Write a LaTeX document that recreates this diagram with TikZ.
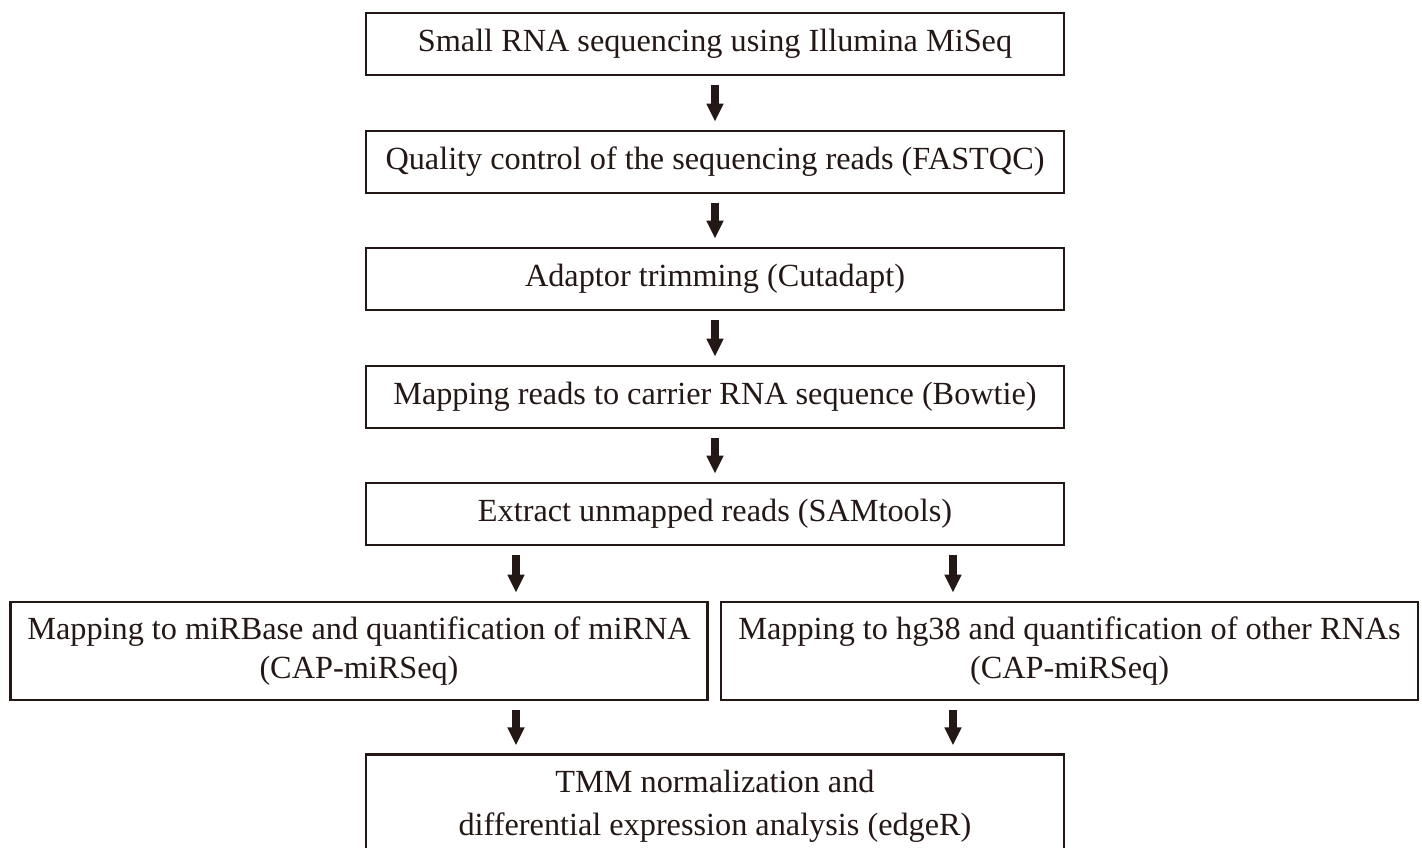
\documentclass[tikz,border=0pt]{standalone}
\usepackage{fontspec}
\setmainfont{Liberation Serif}
\usetikzlibrary{arrows.meta}
\definecolor{ink}{RGB}{35,24,21}
\begin{document}
\begin{tikzpicture}[x=0.75pt,y=-0.75pt,
  stepbox/.style={draw=ink, text=ink, line width=1.9pt, rectangle, inner sep=0pt,
    minimum width=523.5pt, minimum height=46.5pt, align=center,
    font=\fontsize{24.2}{29}\selectfont},
  halfbox/.style={stepbox, minimum width=523pt, minimum height=73.5pt},
  flow/.style={line width=6pt, draw=ink, fill=ink,
    -{Triangle[width=12pt,length=13.5pt]}, shorten <=6.75pt, shorten >=6pt}]
\useasboundingbox (0,0) rectangle (1422,848);
\clip (0,0) rectangle (1422,848);
\fill[white] (0,0) rectangle (1422,848);

% main pipeline
\node[stepbox] (seq) at (715,44) {\raisebox{-1.5pt}{Small RNA sequencing using Illumina MiSeq}};
\node[stepbox] (qc) at (715,162) {\raisebox{-1.5pt}{Quality control of the sequencing reads (FASTQC)}};
\node[stepbox] (trim) at (715,279) {\raisebox{-1.5pt}{Adaptor trimming (Cutadapt)}};
\node[stepbox] (map) at (715,397) {\raisebox{-1.5pt}{Mapping reads to carrier RNA sequence (Bowtie)}};
\node[stepbox] (ext) at (715,514) {\raisebox{-1.5pt}{Extract unmapped reads (SAMtools)}};

% two branches
\node[halfbox] (mir) at (359,651) {Mapping to miRBase and quantification of miRNA\\(CAP-miRSeq)};
\node[halfbox] (hg) at (1069.5,651) {Mapping to hg38 and quantification of other RNAs\\(CAP-miRSeq)};

% final step
\node[stepbox, minimum height=77pt, font=\fontsize{24.2}{32}\selectfont] (tmm) at (715,806)
  {TMM normalization and\\differential expression analysis (edgeR)};

% connectors
\draw[flow] (seq) -- (qc);
\draw[flow] (qc) -- (trim);
\draw[flow] (trim) -- (map);
\draw[flow] (map) -- (ext);
\draw[flow] (ext.south -| 516,0) -- (mir.north -| 516,0);
\draw[flow] (ext.south -| 953,0) -- (hg.north -| 953,0);
\draw[flow] (mir.south -| 516,0) -- (tmm.north -| 516,0);
\draw[flow] (hg.south -| 953,0) -- (tmm.north -| 953,0);
\end{tikzpicture}
\end{document}
